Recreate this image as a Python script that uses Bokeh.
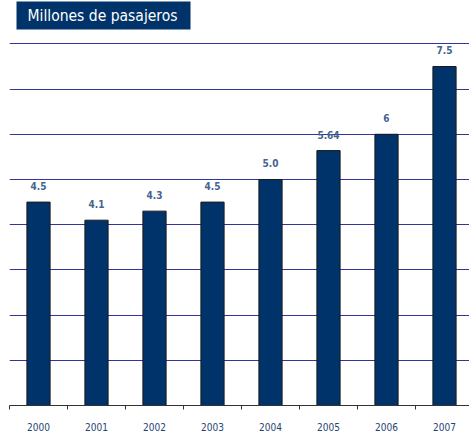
import numpy as np
from bokeh.plotting import figure
from bokeh.models import Range1d, FixedTicker, Label, ColumnDataSource
from bokeh.core.properties import value
from bokeh.embed import file_html
from bokeh.resources import INLINE

years = ["2000", "2001", "2002", "2003", "2004", "2005", "2006", "2007"]
passengers = [4.5, 4.1, 4.3, 4.5, 5.0, 5.64, 6.0, 7.5]
value_labels = ["4.5", "4.1", "4.3", "4.5", "5.0", "5.64", "6", "7.5"]
grid_ticks = [1, 2, 3, 4, 5, 6, 7, 8]
title_text = "Millones de pasajeros"

NAVY = "#00336a"
FONT = "DejaVu Sans Condensed"

n = len(years)
centers = (np.arange(n) + 0.5).tolist()
bounds = np.arange(n + 1).tolist()

src = ColumnDataSource(dict(x=centers, top=passengers, lab=value_labels))

p = figure(width=469, height=433, output_backend="svg", toolbar_location=None,
           title=None, x_range=Range1d(0, 460 / 58), y_range=Range1d(0, 8.96),
           min_border_top=0, min_border_left=9, min_border_right=0,
           min_border_bottom=28)
p.outline_line_color = None
p.background_fill_color = "white"
p.yaxis.visible = False
p.xgrid.visible = False
p.ygrid.ticker = FixedTicker(ticks=grid_ticks)
p.ygrid.grid_line_color = "#3434a0"
p.ygrid.grid_line_width = 1

p.vbar(x="x", top="top", width=0.4, bottom=0, source=src,
       fill_color=NAVY, line_color="#1a1a1a", line_width=1)

p.text(x="x", y="top", text="lab", source=src, y_offset=-16,
       text_align="center", text_baseline="middle",
       text_color="#44638f", text_font_size="10px", text_font_style="bold",
       text_font=value(FONT))

ax = p.xaxis[0]
ax.ticker = FixedTicker(ticks=centers, minor_ticks=bounds)
ax.major_label_overrides = {c: y for c, y in zip(centers, years)}
ax.major_tick_line_color = None
ax.major_tick_out = 0
ax.major_tick_in = 0
ax.minor_tick_out = 4
ax.minor_tick_in = 0
ax.minor_tick_line_color = "#333333"
ax.axis_line_color = "#333333"
ax.major_label_standoff = 13
ax.major_label_text_font = FONT
ax.major_label_text_font_size = "10px"
ax.major_label_text_color = "#1f4575"

title = Label(x=7, y=404, x_units="screen", y_units="screen", text=title_text,
              anchor="top_left", text_font=FONT, text_font_size="15.5px",
              text_color="white", background_fill_color=NAVY,
              padding=dict(left=11, right=13, top=5, bottom=5))
p.add_layout(title)

open("out.html", "w").write(file_html(p, INLINE))
